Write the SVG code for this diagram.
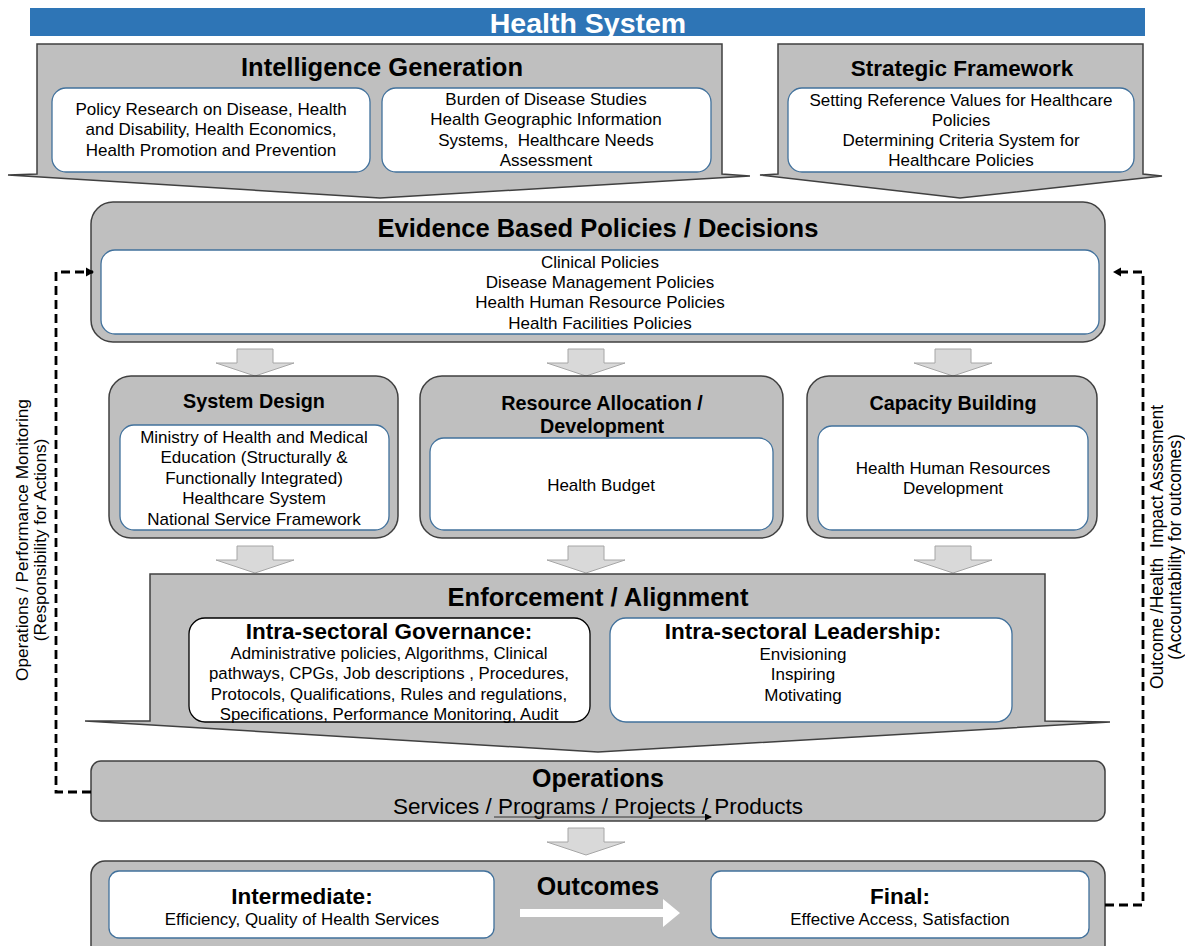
<svg xmlns="http://www.w3.org/2000/svg" width="1185" height="946" viewBox="0 0 1185 946">
<defs>
<style>
.t{font-family:"Liberation Sans",Arial,sans-serif;fill:#000;text-anchor:middle}
.b{font-weight:bold}
.g{fill:#BFBFBF;stroke:#404040;stroke-width:1.5}
.w{fill:#fff;stroke:#41719C;stroke-width:1.3}
.wk{fill:#fff;stroke:#000;stroke-width:1.3}
.da{fill:#D9D9D9;stroke:#A6A6A6;stroke-width:1}
.dash{fill:none;stroke:#000;stroke-width:2.8;stroke-dasharray:9,5}
.pre{white-space:pre}
</style>
<marker id="ah" markerWidth="10" markerHeight="10" refX="7" refY="5" orient="auto" markerUnits="userSpaceOnUse">
<path d="M0,0.5 L8,5 L0,9.5 Z" fill="#000"/>
</marker>
<marker id="ahs" markerWidth="7" markerHeight="7" refX="6" refY="3.5" orient="auto" markerUnits="userSpaceOnUse">
<path d="M0,0 L7,3.5 L0,7 Z" fill="#000"/>
</marker>
<path id="downArrow" d="M-18,0 H18 V14 H39 L0,27 L-39,14 H-18 Z"/>
</defs>

<g id="title">
<rect x="30" y="8" width="1115" height="28" fill="#2E75B6"/>
<text class="t b" x="588" y="33" font-size="28.5" style="fill:#fff">Health System</text>
</g>

<g id="intelligence">
<path class="g" d="M37,44 H722 V174 L750,176 L380,198 L8,175 L37,174 Z"/>
<text class="t b" x="382" y="76" font-size="25.5">Intelligence Generation</text>
<rect class="w" x="52" y="88" width="318" height="84" rx="14"/>
<text class="t" x="211" y="115" font-size="17">Policy Research on Disease, Health</text>
<text class="t" x="211" y="135" font-size="17">and Disability, Health Economics,</text>
<text class="t" x="211" y="156" font-size="17">Health Promotion and Prevention</text>
<rect class="w" x="382" y="88" width="329" height="84" rx="14"/>
<text class="t" x="546" y="105" font-size="17">Burden of Disease Studies</text>
<text class="t" x="546" y="125" font-size="17">Health Geographic Information</text>
<text class="t pre" x="546" y="146" font-size="17">Systems,  Healthcare Needs</text>
<text class="t" x="546" y="166" font-size="17">Assessment</text>
</g>

<g id="strategic">
<path class="g" d="M778,44 H1143 V174 L1162,176 L960,198 L760,175 L778,174 Z"/>
<text class="t b" x="962" y="76" font-size="22.5">Strategic Framework</text>
<rect class="w" x="788" y="88" width="346" height="84" rx="14"/>
<text class="t" x="961" y="106" font-size="17">Setting Reference Values for Healthcare</text>
<text class="t" x="961" y="126" font-size="17">Policies</text>
<text class="t" x="961" y="146" font-size="17">Determining Criteria System for</text>
<text class="t" x="961" y="166" font-size="17">Healthcare Policies</text>
</g>

<g id="evidence">
<rect class="g" x="91" y="202" width="1014" height="140" rx="22"/>
<text class="t b" x="598" y="237" font-size="25.5">Evidence Based Policies / Decisions</text>
<rect class="w" x="101" y="250" width="998" height="84" rx="14"/>
<text class="t" x="600" y="268" font-size="17">Clinical Policies</text>
<text class="t" x="600" y="288" font-size="17">Disease Management Policies</text>
<text class="t" x="600" y="308" font-size="17">Health Human Resource Policies</text>
<text class="t" x="600" y="329" font-size="17">Health Facilities Policies</text>
</g>

<g id="flowArrows">
<use href="#downArrow" class="da" x="255" y="349"/>
<use href="#downArrow" class="da" x="586" y="349"/>
<use href="#downArrow" class="da" x="953" y="349"/>
<use href="#downArrow" class="da" x="255" y="546"/>
<use href="#downArrow" class="da" x="586" y="546"/>
<use href="#downArrow" class="da" x="953" y="546"/>
<use href="#downArrow" class="da" x="586" y="828"/>
</g>

<g id="systemDesign">
<rect class="g" x="109" y="376" width="289" height="162" rx="22"/>
<text class="t b" x="254" y="408" font-size="19.8">System Design</text>
<rect class="w" x="120" y="425" width="269" height="105" rx="14"/>
<text class="t" x="254" y="443" font-size="17">Ministry of Health and Medical</text>
<text class="t" x="254" y="463" font-size="17">Education (Structurally &amp;</text>
<text class="t" x="254" y="484" font-size="17">Functionally Integrated)</text>
<text class="t" x="254" y="504" font-size="17">Healthcare System</text>
<text class="t" x="254" y="525" font-size="17">National Service Framework</text>
</g>

<g id="resourceAllocation">
<rect class="g" x="420" y="376" width="363" height="162" rx="22"/>
<text class="t b" x="602" y="410" font-size="19.8">Resource Allocation /</text>
<text class="t b" x="602" y="433" font-size="19.8">Development</text>
<rect class="w" x="430" y="438" width="343" height="92" rx="14"/>
<text class="t" x="601" y="491" font-size="17">Health Budget</text>
</g>

<g id="capacityBuilding">
<rect class="g" x="807" y="376" width="290" height="162" rx="22"/>
<text class="t b" x="953" y="410" font-size="19.8">Capacity Building</text>
<rect class="w" x="818" y="426" width="270" height="104" rx="14"/>
<text class="t" x="953" y="474" font-size="17">Health Human Resources</text>
<text class="t" x="953" y="494" font-size="17">Development</text>
</g>

<g id="enforcement">
<path class="g" d="M150,574 H1045 V721 L1110,722 L598,752 L85,721 L150,721 Z"/>
<text class="t b" x="598" y="606" font-size="25.5">Enforcement / Alignment</text>
<rect class="wk" x="189" y="618" width="401" height="104" rx="16"/>
<text class="t b" x="389" y="639" font-size="22.5">Intra-sectoral Governance:</text>
<text class="t" x="389" y="659" font-size="16.8">Administrative policies, Algorithms, Clinical</text>
<text class="t" x="389" y="679" font-size="16.8">pathways, CPGs, Job descriptions , Procedures,</text>
<text class="t" x="389" y="700" font-size="16.8">Protocols, Qualifications, Rules and regulations,</text>
<text class="t" x="389" y="720" font-size="16.8">Specifications, Performance Monitoring, Audit</text>
<rect class="w" x="610" y="618" width="402" height="104" rx="16"/>
<text class="t b" x="803" y="639" font-size="22.5">Intra-sectoral Leadership:</text>
<text class="t" x="803" y="660" font-size="17">Envisioning</text>
<text class="t" x="803" y="680" font-size="17">Inspiring</text>
<text class="t" x="803" y="701" font-size="17">Motivating</text>
</g>

<g id="operations">
<rect class="g" x="91" y="761" width="1014" height="60" rx="10"/>
<text class="t b" x="598" y="787" font-size="25">Operations</text>
<text class="t" x="598" y="814" font-size="22.5">Services / Programs / Projects / Products</text>
<line x1="494" y1="817" x2="711" y2="817" stroke="#333" stroke-width="1" marker-end="url(#ahs)"/>
</g>

<g id="outcomes">
<rect class="g" x="91" y="861" width="1014" height="100" rx="14"/>
<text class="t b" x="598" y="895" font-size="25">Outcomes</text>
<path d="M520,909 H663 V899 L680,913 L663,927 V917 H520 Z" fill="#fff"/>
<rect class="w" x="109" y="871" width="385" height="67" rx="10"/>
<text class="t b" x="302" y="904" font-size="22.5">Intermediate:</text>
<text class="t" x="302" y="925" font-size="16.9">Efficiency, Quality of Health Services</text>
<rect class="w" x="711" y="871" width="378" height="67" rx="10"/>
<text class="t b" x="900" y="904" font-size="22.5">Final:</text>
<text class="t" x="900" y="925" font-size="16.9">Effective Access, Satisfaction</text>
</g>

<g id="connectors">
<path class="dash" d="M91,792 H56 V272 H93" marker-end="url(#ah)"/>
<path class="dash" d="M1105,905 H1143 V272 H1114" marker-end="url(#ah)"/>
</g>

<g id="sideLabels">
<text class="t" font-size="17.2" transform="translate(28,540) rotate(-90)">Operations / Performance Monitoring</text>
<text class="t" font-size="17.2" transform="translate(46,540) rotate(-90)">(Responsibility for Actions)</text>
<text class="t pre" font-size="17.5" transform="translate(1163,547) rotate(-90)">Outcome /Health  Impact Assesment</text>
<text class="t" font-size="17.5" transform="translate(1181,547) rotate(-90)">(Accountability for outcomes)</text>
</g>
</svg>
